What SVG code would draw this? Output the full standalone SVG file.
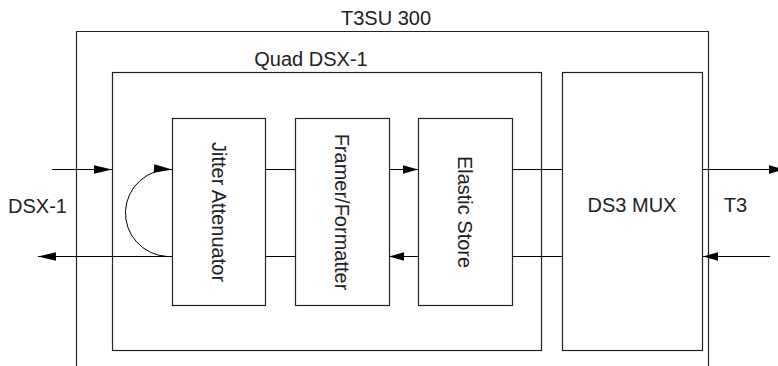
<svg xmlns="http://www.w3.org/2000/svg" width="778" height="366" viewBox="0 0 778 366">
<style>
.box{fill:#fff;stroke:#222;stroke-width:1.2}
.frame{fill:none;stroke:#222;stroke-width:1.2}
.ln{fill:none;stroke:#000;stroke-width:1}
.t{font-family:"Liberation Sans",Arial,sans-serif;font-size:20px;fill:#222}
.c{text-anchor:middle}
</style>
<defs>
<marker id="ahL" markerUnits="userSpaceOnUse" markerWidth="18" markerHeight="8.5" refX="18" refY="4.25" orient="auto" overflow="visible">
<path d="M0,0 L18,4.25 L0,8.5 z" fill="#000"/>
</marker>
<marker id="ah" markerUnits="userSpaceOnUse" markerWidth="15" markerHeight="8.5" refX="15" refY="4.25" orient="auto" overflow="visible">
<path d="M0,0 L15,4.25 L0,8.5 z" fill="#000"/>
</marker>
</defs>
<rect width="778" height="366" fill="#fff"/>
<g id="t3su300">
<path class="frame" d="M76.5,366 V31.5 H708.5 V366"/>
<text class="t c" x="386" y="25">T3SU 300</text>
</g>
<g id="quad-dsx1">
<rect class="box" x="112.5" y="72.5" width="429" height="278"/>
<text class="t c" x="311" y="66">Quad DSX-1</text>
</g>
<g id="ds3-mux">
<rect class="box" x="562.5" y="72.5" width="140" height="278"/>
<text class="t c" x="632" y="212">DS3 MUX</text>
</g>
<g id="jitter">
<rect class="box" x="172.5" y="118.5" width="93" height="187"/>
<text class="t c" transform="translate(218.5,212) rotate(90)" x="0" y="7">Jitter Attenuator</text>
</g>
<g id="framer">
<rect class="box" x="295.5" y="118.5" width="94" height="187"/>
<text class="t c" transform="translate(342,212) rotate(90)" x="0" y="7">Framer/Formatter</text>
</g>
<g id="elastic">
<rect class="box" x="418.5" y="118.5" width="94" height="187"/>
<text class="t c" transform="translate(465,212) rotate(90)" x="0" y="7">Elastic Store</text>
</g>
<g id="labels">
<text class="t c" x="37.5" y="213">DSX-1</text>
<text class="t c" x="735.5" y="212">T3</text>
</g>
<g id="connectors">
<path class="ln" d="M52,169.5 H112" marker-end="url(#ahL)"/>
<path class="ln" d="M172,256.5 H38" marker-end="url(#ahL)"/>
<path class="ln" d="M167,256.5 A44,43.5 0 0 1 172,169.5" marker-end="url(#ahL)"/>
<path class="ln" d="M265,169.5 H295 M265,256.5 H295"/>
<path class="ln" d="M389,169.5 H418" marker-end="url(#ah)"/>
<path class="ln" d="M418,256.5 H389" marker-end="url(#ah)"/>
<path class="ln" d="M512,169.5 H562 M512,256.5 H562"/>
<path class="ln" d="M702,169.5 H784" marker-end="url(#ah)"/>
<path class="ln" d="M770,256.5 H703" marker-end="url(#ah)"/>
</g>
</svg>
